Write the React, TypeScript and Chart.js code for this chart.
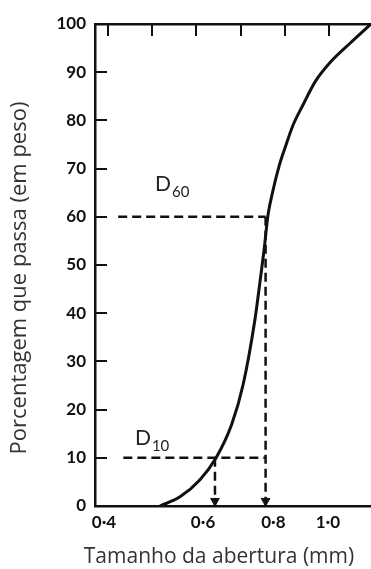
import React, { useEffect, useRef } from 'react';
import { Chart, registerables } from 'chart.js';

Chart.register(...registerables);

// Grain-size (gradation) curve
const SIZES_MM = [0.503, 0.546, 0.592, 0.633, 0.675, 0.707, 0.742, 0.757, 0.77, 0.783, 0.799, 0.819, 0.842, 0.867, 0.903, 0.949, 1.009, 1.095, 1.193];
const PASSING_PCT = [0, 1.9, 5.4, 10, 17, 25.2, 38.7, 46.3, 53, 60.5, 65.5, 70.5, 74.8, 79, 83.2, 88, 92, 96, 100];

const X_TICKS = [0.4, 0.6, 0.8, 1.0];
const X_TICK_LABELS = ['0·4', '0·6', '0·8', '1·0'];
const Y_TICKS = [0, 10, 20, 30, 40, 50, 60, 70, 80, 90, 100];
const TOP_TICKS = [0, 1, 2, 3, 4, 5];

const X_TITLE = 'Tamanho da abertura (mm)';
const Y_TITLE = 'Porcentagem que passa (em peso)';

const D10 = 0.63;
const D60 = 0.775;
const GUIDE_START_10 = 0.433;
const GUIDE_START_60 = 0.424;
const ARROW_TIP_PCT = 1.05;

const LABEL_MAIN = ['D', 'D'];
const LABEL_SUB = ['60', '10'];
const LABEL_X = [0.493, 0.454];
const LABEL_Y = [65.3, 12.7];

const X_MIN = 0.3856;
const X_MAX = 1.193;

const INK = '#111';

const labelPlugin = {
  id: 'dLabels',
  afterDatasetsDraw(chart: any) {
    const { ctx, scales, chartArea } = chart;
    const x = scales.x;
    const y = scales.y;
    ctx.save();
    ctx.fillStyle = '#222';
    ctx.textAlign = 'left';
    ctx.textBaseline = 'alphabetic';
    LABEL_MAIN.forEach((m, i) => {
      const px = x.getPixelForValue(LABEL_X[i]);
      const py = y.getPixelForValue(LABEL_Y[i]);
      ctx.font = '21px Lato';
      ctx.fillText(m, px, py);
      const w = ctx.measureText(m).width;
      ctx.font = '15px Lato';
      ctx.fillText(LABEL_SUB[i], px + w + 1, py + 6);
    });

    // axis titles
    ctx.fillStyle = '#333';
    ctx.textAlign = 'center';
    ctx.textBaseline = 'middle';
    ctx.font = '21px "Open Sans"';
    ctx.fillText(X_TITLE, (chartArea.left + chartArea.right) / 2 - 14, chart.height - 12);
    ctx.translate(20, (chartArea.top + chartArea.bottom) / 2 + 13);
    ctx.rotate(-Math.PI / 2);
    ctx.font = '22px "Open Sans"';
    ctx.fillText(Y_TITLE, 0, 0);
    ctx.restore();
  },
};

const zeroPadH = (s: any, h: number) => {
  s.height = h;
  s.paddingLeft = 0;
  s.paddingRight = 0;
};

export default function App() {
  const ref = useRef<HTMLCanvasElement | null>(null);

  useEffect(() => {
    if (!ref.current) return;
    const guide = {
      borderColor: INK,
      borderWidth: 2.5,
      borderDash: [9, 5],
      pointRadius: 0,
      fill: false,
    };
    const chart = new Chart(ref.current, {
      type: 'line',
      data: {
        datasets: [
          {
            data: SIZES_MM.map((v, i) => ({ x: v, y: PASSING_PCT[i] })),
            borderColor: INK,
            borderWidth: 3,
            pointRadius: 0,
            cubicInterpolationMode: 'monotone',
            fill: false,
          },
          { ...guide, data: [{ x: GUIDE_START_60, y: 60 }, { x: D60, y: 60 }] },
          { ...guide, data: [{ x: GUIDE_START_10, y: 10 }, { x: D60, y: 10 }] },
          { ...guide, data: [{ x: D60, y: 60 }, { x: D60, y: 0 }] },
          { ...guide, data: [{ x: D10, y: 10 }, { x: D10, y: 0 }] },
          {
            data: [{ x: D10, y: ARROW_TIP_PCT }, { x: D60, y: ARROW_TIP_PCT }],
            showLine: false,
            pointStyle: 'triangle',
            rotation: 180,
            pointRadius: 5,
            pointBackgroundColor: INK,
            pointBorderColor: INK,
            pointBorderWidth: 1,
          },
        ],
      } as any,
      options: {
        animation: false,
        responsive: false,
        devicePixelRatio: 1,
        layout: { padding: 0, autoPadding: false },
        plugins: { legend: { display: false }, tooltip: { enabled: false } },
        scales: {
          x: {
            type: 'logarithmic',
            position: 'bottom',
            min: X_MIN,
            max: X_MAX,
            afterBuildTicks: (s: any) => {
              s.ticks = X_TICKS.map((v) => ({ value: v }));
            },
            afterFit: (s: any) => zeroPadH(s, 63),
            ticks: {
              autoSkip: false,
              maxRotation: 0,
              color: INK,
              padding: 6,
              font: { family: 'Lato', size: 17, weight: 'bold' },
              callback: (v: any) => {
                const i = X_TICKS.findIndex((t) => Math.abs(t - Number(v)) < 1e-6);
                return i >= 0 ? X_TICK_LABELS[i] : '';
              },
            },
            grid: { drawOnChartArea: false, drawTicks: false },
            border: { color: INK, width: 2.5 },
            title: { display: false, text: X_TITLE },
          },
          x2: {
            type: 'linear',
            position: 'top',
            min: -0.294,
            max: 5.95,
            afterBuildTicks: (s: any) => {
              s.ticks = TOP_TICKS.map((v) => ({ value: v }));
            },
            afterFit: (s: any) => zeroPadH(s, 24),
            ticks: { display: false },
            grid: { drawOnChartArea: false, drawTicks: true, tickLength: -12, color: INK, lineWidth: 2 },
            border: { color: INK, width: 2.5 },
          },
          y: {
            type: 'linear',
            position: 'left',
            min: 0,
            max: 100,
            afterBuildTicks: (s: any) => {
              s.ticks = Y_TICKS.map((v) => ({ value: v }));
            },
            afterFit: (s: any) => {
              s.width = 95;
              s.paddingTop = 0;
              s.paddingBottom = 0;
            },
            ticks: {
              color: INK,
              padding: 21,
              font: { family: 'Lato', size: 17, weight: 'bold' },
            },
            grid: { drawOnChartArea: false, drawTicks: true, tickLength: -12, color: INK, lineWidth: 2 },
            border: { color: INK, width: 2.5 },
            title: { display: false, text: Y_TITLE },
          },
        },
      } as any,
      plugins: [labelPlugin],
    });
    return () => chart.destroy();
  }, []);

  return (
    <div style={{ position: 'fixed', left: 0, top: 0, width: 371, height: 569, background: '#fff' }}>
      <canvas ref={ref} width={371} height={569} style={{ display: 'block' }} />
    </div>
  );
}
